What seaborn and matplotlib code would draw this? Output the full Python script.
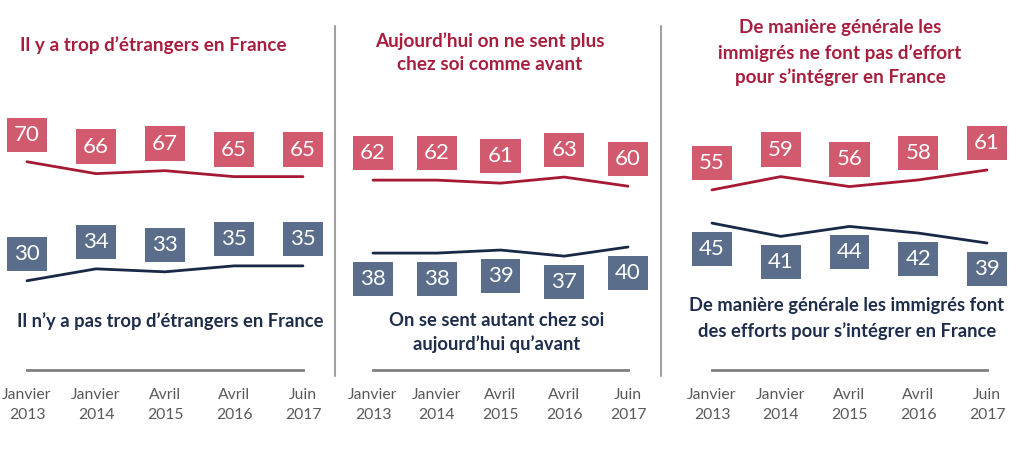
import matplotlib
matplotlib.use("Agg")
import matplotlib.pyplot as plt
import seaborn as sns
import pandas as pd
from matplotlib.lines import Line2D

# ---------------- data ----------------
periods = ["Janvier\n2013", "Janvier\n2014", "Avril\n2015", "Avril\n2016", "Juin\n2017"]

trop_etrangers = [70, 66, 67, 65, 65]
pas_trop_etrangers = [30, 34, 33, 35, 35]

plus_chez_soi = [62, 62, 61, 63, 60]
autant_chez_soi = [38, 38, 39, 37, 40]

pas_effort = [55, 59, 56, 58, 61]
des_efforts = [45, 41, 44, 42, 39]

titles = [
    "Il y a trop d\u2019étrangers en France",
    "Aujourd\u2019hui on ne sent plus\nchez soi comme avant",
    "De manière générale les\nimmigrés ne font pas d\u2019effort\npour s\u2019intégrer en France",
]
bottom_labels = [
    "Il n\u2019y a pas trop d\u2019étrangers en France",
    "On se sent autant chez soi\naujourd\u2019hui qu\u2019avant",
    "De manière générale les immigrés font\ndes efforts pour s\u2019intégrer en France",
]

# ---------------- style ----------------
sns.set_theme(style="white")
plt.rcParams["font.family"] = ["Lato", "DejaVu Sans"]

RED_BOX = "#D25A6E"
BLUE_BOX = "#5A6E8C"
RED_LINE = "#A51932"
BLUE_LINE = "#192846"
TITLE_RED = "#A81E3E"
NAVY = "#1E2D4B"
GREY_TXT = "#595959"
GREY_LINE = "#808080"

W, H = 1024, 462
fig = plt.figure(figsize=(W / 100, H / 100), dpi=100)

def fx(x):
    return x / W

def fy(y):
    return 1 - y / H

# panel geometry in pixels: first/last point x, pixel of value 0, px per unit
panels = [
    dict(x0=27, x4=303, y0=370.0, s=2.975, top=trop_etrangers, bot=pas_trop_etrangers,
         bot_above=True, tx=153, ty=[45], bx=170, by=[321]),
    dict(x0=373, x4=628, y0=368.6, s=3.04, top=plus_chez_soi, bot=autant_chez_soi,
         bot_above=False, tx=490, ty=[41, 64], bx=497, by=[320, 344]),
    dict(x0=712, x4=987, y0=372.5, s=3.32, top=pas_effort, bot=des_efforts,
         bot_above=False, tx=840, ty=[28, 53, 77], bx=847, by=[306, 331]),
]

axis_y = 370
for i, p in enumerate(panels):
    ax = fig.add_axes([fx(p["x0"]), fy(axis_y), (p["x4"] - p["x0"]) / W, axis_y / H])
    df = pd.DataFrame({"x": range(len(periods)), "top": p["top"], "bot": p["bot"]})
    sns.lineplot(data=df, x="x", y="top", ax=ax, color=RED_LINE, lw=2.0, clip_on=False)
    sns.lineplot(data=df, x="x", y="bot", ax=ax, color=BLUE_LINE, lw=2.0, clip_on=False)
    ax.set_xlim(0, len(periods) - 1)
    ax.set_ylim((p["y0"] - axis_y) / p["s"], p["y0"] / p["s"])
    for j, (a, b) in enumerate(zip(p["top"], p["bot"])):
        ax.annotate(str(a), (j, a), xytext=(0, 19.5), textcoords="offset points",
                    ha="center", va="center", color="white", fontsize=16,
                    bbox=dict(boxstyle="square,pad=0.32", fc=RED_BOX, ec="none"),
                    annotation_clip=False)
        off = 19.5 if p["bot_above"] else -18.5
        ax.annotate(str(b), (j, b), xytext=(0, off), textcoords="offset points",
                    ha="center", va="center", color="white", fontsize=16,
                    bbox=dict(boxstyle="square,pad=0.32", fc=BLUE_BOX, ec="none"),
                    annotation_clip=False)
    ax.set_xticks(range(len(periods)))
    ax.set_xticklabels(periods, color=GREY_TXT, fontsize=11.3, linespacing=1.5)
    ax.set_yticks([])
    ax.set_xlabel("")
    ax.set_ylabel("")
    for side in ["top", "left", "right"]:
        ax.spines[side].set_visible(False)
    ax.spines["bottom"].set_color(GREY_LINE)
    ax.spines["bottom"].set_linewidth(2)
    ax.tick_params(axis="x", length=0, pad=13)
    ax.patch.set_alpha(0)

    # titles
    for line, yy in zip(titles[i].split("\n"), p["ty"]):
        fig.text(fx(p["tx"]), fy(yy), line, ha="center", va="center",
                 color=TITLE_RED, fontsize=13.6, fontweight="bold")
    for line, yy in zip(bottom_labels[i].split("\n"), p["by"]):
        fig.text(fx(p["bx"]), fy(yy), line, ha="center", va="center",
                 color=NAVY, fontsize=13.2, fontweight="bold")

# separators
for sx in [335, 661]:
    fig.add_artist(Line2D([fx(sx), fx(sx)], [fy(26), fy(376)], color="#A0A0A0", lw=1.5))

fig.savefig("out.png", dpi=100, facecolor="white")
